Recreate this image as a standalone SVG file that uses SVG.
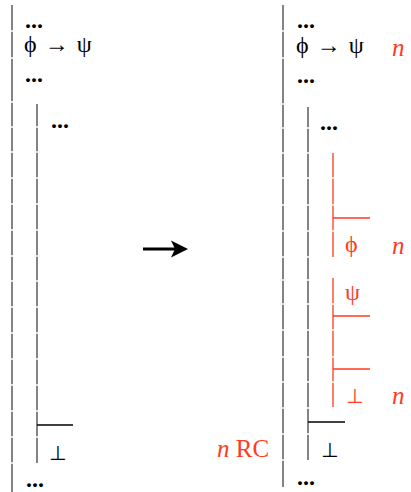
<svg xmlns="http://www.w3.org/2000/svg" width="411" height="492" viewBox="0 0 411 492">
<style>
.bar{fill:none;stroke:#666;stroke-width:1.6}
.hl{fill:none;stroke:#000;stroke-width:1.3}
.rbar{fill:none;stroke:#ff3b1f;stroke-width:1.3}
.t{font-family:"Liberation Serif","DejaVu Serif",serif;font-size:24px;fill:#000}
.w{word-spacing:2px}
.d{font-family:"Liberation Serif","DejaVu Serif",serif;font-size:24px;font-weight:bold;fill:#000}
.bot{font-family:"DejaVu Sans",sans-serif;font-size:20px;fill:#000}
.r{fill:#ff3b1f}
.n{font-family:"Liberation Serif","DejaVu Serif",serif;font-style:italic;font-size:25px;fill:#ff3b1f}
</style>
<rect width="411" height="492" fill="#fff"/>
<g id="left-proof">
<path class="bar" d="M12 5V30.2M12 31.8V57.2M12 58.8V101.2M12 102.8V126.2M12 127.8V151.2M12 152.8V177.2M12 178.8V203.2M12 204.8V229.2M12 230.8V255.2M12 256.8V280.2M12 281.8V306.2M12 307.8V332.2M12 333.8V358.2M12 359.8V384.2M12 385.8V410.2M12 411.8V436.2M12 437.8V462.2M12 463.8V492"/>
<path class="bar" d="M37 104V126.2M37 127.8V151.2M37 152.8V177.2M37 178.8V203.2M37 204.8V229.2M37 230.8V255.2M37 256.8V280.2M37 281.8V306.2M37 307.8V332.2M37 333.8V358.2M37 359.8V384.2M37 385.8V410.2M37 411.8V436.2M37 437.8V463"/>
<path class="hl" d="M37 425H73"/>
<text class="d" x="25" y="28">...</text>
<text class="t w" x="24" y="52">ϕ → ψ</text>
<text class="d" x="25" y="82">...</text>
<text class="d" x="51" y="128">...</text>
<text class="bot" x="49" y="460">⊥</text>
<text class="d" x="26" y="487">...</text>
</g>
<g id="connectors">
<path d="M143 249H178" stroke="#000" stroke-width="3.2" fill="none"/>
<path d="M188 249L171 240.5L175 249L171 257.5Z" fill="#000"/>
</g>
<g id="right-proof">
<path class="bar" d="M283 5V30.2M283 31.8V57.2M283 58.8V103.2M283 104.8V127.2M283 128.8V152.2M283 153.8V177.2M283 178.8V204.2M283 205.8V230.2M283 231.8V256.2M283 257.8V279.2M283 280.8V303.2M283 304.8V329.2M283 330.8V356.2M283 357.8V381.2M283 382.8V407.2M283 408.8V433.2M283 434.8V459.2M283 460.8V487"/>
<path class="bar" d="M308 107V127.2M308 128.8V152.2M308 153.8V177.2M308 178.8V204.2M308 205.8V230.2M308 231.8V256.2M308 257.8V279.2M308 280.8V303.2M308 304.8V329.2M308 330.8V356.2M308 357.8V381.2M308 382.8V407.2M308 408.8V433.2M308 434.8V460"/>
<path class="hl" d="M308 422H345"/>
<text class="d" x="297" y="28">...</text>
<text class="t w" x="296" y="53">ϕ → ψ</text>
<text class="n" x="392" y="56">n</text>
<text class="d" x="297" y="83">...</text>
<text class="d" x="320" y="130">...</text>
<text class="bot" x="321" y="457">⊥</text>
<text class="d" x="297" y="485">...</text>
</g>
<g id="red-subproof">
<path class="rbar" d="M333 153V177.2M333 178.8V204.2M333 205.8V230.2M333 231.8V257M333 278V303.2M333 304.8V329.2M333 330.8V356.2M333 357.8V381.2M333 382.8V407"/>
<path class="rbar" d="M333 218H370M333 316H370M333 369H370"/>
<text class="t r" x="345" y="252">ϕ</text>
<text class="n" x="392" y="254">n</text>
<text class="t r" x="345" y="300">ψ</text>
<text class="bot r" x="346" y="403">⊥</text>
<text class="n" x="392" y="404">n</text>
</g>
<g id="rule-label">
<text x="217" y="457" font-family="Liberation Serif, serif" font-size="25" fill="#ff3b1f"><tspan font-style="italic">n</tspan> RC</text>
</g>
</svg>
